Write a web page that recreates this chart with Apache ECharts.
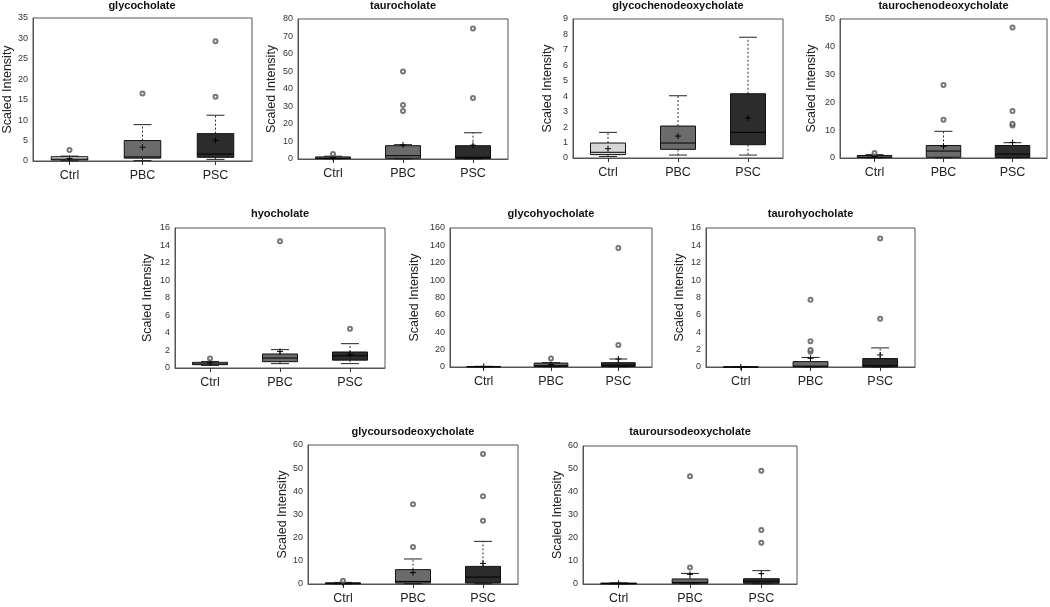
<!DOCTYPE html>
<html>
<head>
<meta charset="utf-8">
<script src="https://cdn.jsdelivr.net/npm/echarts@6/dist/echarts.min.js"></script>
<style>
html,body{margin:0;padding:0;background:#fff;}
#chart{width:1050px;height:607px;}
</style>
</head>
<body>
<div id="chart"></div>
<script>
// ---- data ----
const categories = ['Ctrl', 'PBC', 'PSC'];
const titles = ['glycocholate', 'taurocholate', 'glycochenodeoxycholate', 'taurochenodeoxycholate',
  'hyocholate', 'glycohyocholate', 'taurohyocholate', 'glycoursodeoxycholate', 'tauroursodeoxycholate'];
const yMax = [35, 80, 9, 50, 16, 160, 16, 60, 60];
const yStep = [5, 10, 1, 10, 2, 20, 2, 10, 10];

// stats per group: [min, q1, median, q3, max, mean]
const glycocholateStats = [[0.05, 0.25, 0.45, 1.05, 1.2, 0.6], [0.1, 0.7, 1.0, 5.0, 8.9, 3.35], [0.4, 0.9, 1.7, 6.7, 11.2, 5.05]];
const taurocholateStats = [[0.1, 0.3, 0.6, 1.2, 1.6, 0.8], [0.1, 0.4, 1.9, 7.6, 8.2, 8.0], [0.1, 0.3, 1.0, 7.6, 15.0, 7.9]];
const glycochenoStats = [[0.1, 0.22, 0.37, 0.97, 1.66, 0.6], [0.19, 0.56, 0.97, 2.07, 4.03, 1.42], [0.19, 0.86, 1.66, 4.16, 7.82, 2.59]];
const taurochenoStats = [[0.05, 0.2, 0.4, 0.9, 1.2, 0.6], [0.1, 0.25, 2.5, 4.5, 9.6, 4.2], [0.1, 0.2, 1.4, 4.5, 5.5, 5.6]];
const hyocholateStats = [[0.3, 0.38, 0.48, 0.65, 0.75, 0.6], [0.5, 0.72, 1.14, 1.6, 2.1, 1.9], [0.5, 0.9, 1.4, 1.83, 2.78, 1.56]];
const glycohyoStats = [[0.1, 0.2, 0.3, 0.5, 0.8, 0.6], [0.3, 0.6, 1.5, 4.5, 5.0, 2.8], [0.3, 0.6, 2.0, 5.0, 9.2, 9.2]];
const taurohyoStats = [[0, 0, 0, 0, 0, 0], [0, 0.02, 0.1, 0.62, 1.1, 1.0], [0, 0.02, 0.15, 0.97, 2.2, 1.38]];
const glycoursoStats = [[0.05, 0.1, 0.3, 0.5, 0.7, 0.4], [0.1, 0.4, 1.1, 6.2, 10.8, 4.9], [0.1, 0.4, 3.0, 7.6, 18.4, 8.9]];
const tauroursoStats = [[0.02, 0.05, 0.2, 0.4, 0.5, 0.3], [0.1, 0.3, 0.7, 2.2, 4.6, 4.2], [0.1, 0.3, 1.2, 2.3, 5.8, 4.5]];

// outliers: [groupIndex, value]
const glycocholateOut = [[0, 2.7], [1, 16.5], [2, 15.7], [2, 29.3]];
const taurocholateOut = [[0, 2.9], [1, 50], [1, 30.8], [1, 27.5], [2, 34.8], [2, 74.6]];
const glycochenoOut = [];
const taurochenoOut = [[0, 1.8], [1, 13.8], [1, 26.3], [2, 11.7], [2, 12.3], [2, 16.9], [2, 46.9]];
const hyocholateOut = [[0, 1.1], [1, 14.5], [2, 4.5]];
const glycohyoOut = [[1, 9.7], [2, 25.3], [2, 137]];
const taurohyoOut = [[1, 1.75], [1, 1.96], [1, 2.96], [1, 7.75], [2, 5.56], [2, 14.8]];
const glycoursoOut = [[0, 1.4], [1, 16], [1, 34.4], [2, 27.3], [2, 37.9], [2, 56.1]];
const tauroursoOut = [[1, 7.2], [1, 46.9], [2, 17.9], [2, 23.5], [2, 49.2]];

const allStats = [glycocholateStats, taurocholateStats, glycochenoStats, taurochenoStats,
  hyocholateStats, glycohyoStats, taurohyoStats, glycoursoStats, tauroursoStats];
const allOut = [glycocholateOut, taurocholateOut, glycochenoOut, taurochenoOut,
  hyocholateOut, glycohyoOut, taurohyoOut, glycoursoOut, tauroursoOut];

// ---- layout (pixels) ----
const gridBoxes = [
  [32, 18, 220, 143], [298, 19, 210, 140], [573, 19, 210, 139], [840, 19, 207, 139],
  [175, 228, 210, 140], [450, 228, 202, 139], [706, 228, 209, 139],
  [308, 445, 210, 139], [583, 446, 214, 138]
];
const titleTops = [0, 0, 0, 0, 208, 208, 208, 426, 426];
const nameGaps = [19, 20, 19, 22, 21, 29, 20, 19, 19];
const boxColors = ['#d6d6d6', '#6b6b6b', '#2c2c2c'];

function renderBox(params, api) {
  const xi = api.value(0);
  const mn = api.value(1), q1 = api.value(2), md = api.value(3), q3 = api.value(4), mx = api.value(5), mean = api.value(6);
  const bw = api.size([1, 0])[0] * 0.5;
  const cx = api.coord([xi, 0])[0];
  const Y = v => api.coord([xi, v])[1];
  const cap = 9;
  const wStyle = { stroke: '#333', lineWidth: 1, lineDash: [2, 2] };
  const sStyle = { stroke: '#222', lineWidth: 1 };
  const children = [
    { type: 'line', shape: { x1: cx, y1: Y(q3), x2: cx, y2: Y(mx) }, style: wStyle },
    { type: 'line', shape: { x1: cx, y1: Y(q1), x2: cx, y2: Y(mn) }, style: wStyle },
    { type: 'line', shape: { x1: cx - cap, y1: Y(mx), x2: cx + cap, y2: Y(mx) }, style: sStyle },
    { type: 'line', shape: { x1: cx - cap, y1: Y(mn), x2: cx + cap, y2: Y(mn) }, style: sStyle },
    { type: 'rect', shape: { x: cx - bw / 2, y: Y(q3), width: bw, height: Y(q1) - Y(q3) },
      style: { fill: boxColors[xi], stroke: '#111', lineWidth: 1 } },
    { type: 'line', shape: { x1: cx - bw / 2, y1: Y(md), x2: cx + bw / 2, y2: Y(md) }, style: { stroke: '#000', lineWidth: 1 } },
    { type: 'line', shape: { x1: cx - 3, y1: Y(mean), x2: cx + 3, y2: Y(mean) }, style: { stroke: '#000', lineWidth: 1 } },
    { type: 'line', shape: { x1: cx, y1: Y(mean) - 3, x2: cx, y2: Y(mean) + 3 }, style: { stroke: '#000', lineWidth: 1 } }
  ];
  return { type: 'group', children: children };
}

const grid = [], xAxis = [], yAxis = [], series = [], title = [];
for (let i = 0; i < 9; i++) {
  const g = gridBoxes[i];
  grid.push({ left: g[0], top: g[1], width: g[2], height: g[3], show: true, borderColor: '#555', borderWidth: 1, containLabel: false });
  title.push({ text: titles[i], left: g[0] + g[2] / 2, top: titleTops[i], textAlign: 'center', padding: 0,
    textStyle: { fontSize: 11, fontWeight: 'bold', color: '#111', fontFamily: 'Liberation Sans Narrow, Liberation Sans, Arial, sans-serif' } });
  xAxis.push({ type: 'category', gridIndex: i, data: categories,
    axisLine: { show: true, lineStyle: { color: '#555' } },
    axisTick: { show: true, alignWithLabel: true, length: 4, lineStyle: { color: '#333' } },
    axisLabel: { fontSize: 12.5, margin: 8, color: '#222', fontFamily: 'Liberation Sans, Arial, sans-serif' },
    splitLine: { show: false } });
  yAxis.push({ type: 'value', gridIndex: i, min: 0, max: yMax[i], interval: yStep[i],
    name: 'Scaled Intensity', nameLocation: 'middle', nameGap: nameGaps[i],
    nameTextStyle: { fontSize: 12.5, color: '#222', fontFamily: 'Liberation Sans, Arial, sans-serif' },
    axisLine: { show: true, lineStyle: { color: '#555' } },
    axisTick: { show: false },
    axisLabel: { fontSize: 9, margin: 5, color: '#333', fontFamily: 'Liberation Sans Narrow, Liberation Sans, Arial, sans-serif' },
    splitLine: { show: false } });
  series.push({ type: 'custom', xAxisIndex: i, yAxisIndex: i, renderItem: renderBox,
    encode: { x: 0, y: [1, 2, 3, 4, 5, 6] },
    data: allStats[i].map((s, k) => [k].concat(s)), z: 2 });
  series.push({ type: 'scatter', xAxisIndex: i, yAxisIndex: i, symbol: 'emptyCircle', symbolSize: 4,
    itemStyle: { color: '#555', borderColor: '#555', borderWidth: 1 },
    data: allOut[i], z: 3 });
}

const chart = echarts.init(document.getElementById('chart'), null, { renderer: 'canvas' });
chart.setOption({ animation: false, backgroundColor: '#fff', title, grid, xAxis, yAxis, series, tooltip: { show: false } });
</script>
</body>
</html>
